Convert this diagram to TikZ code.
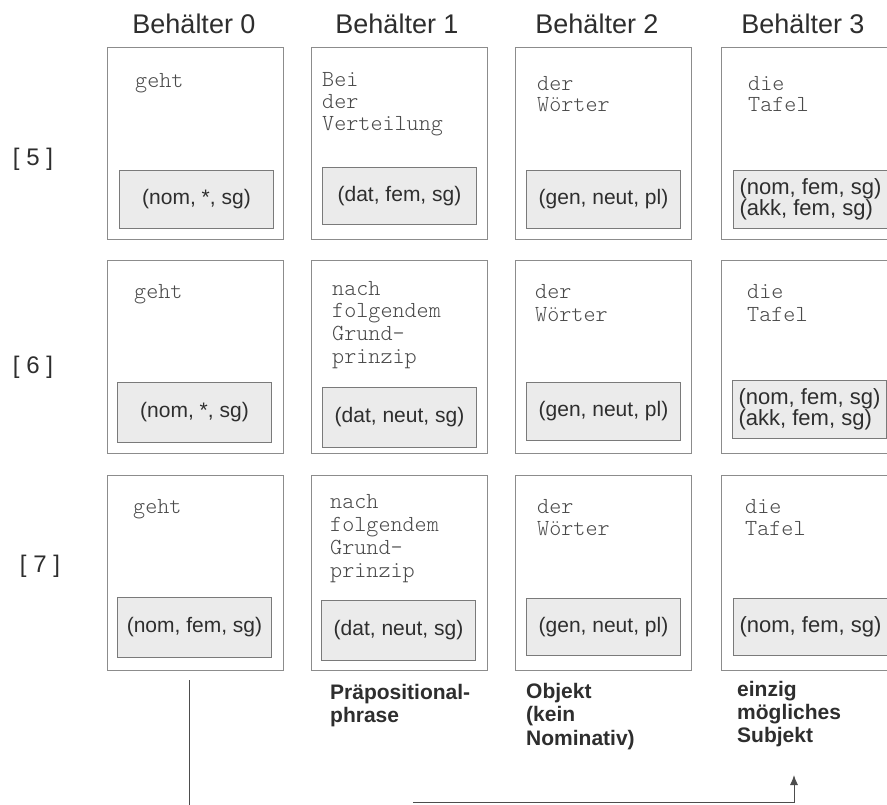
\documentclass[tikz,border=0pt]{standalone}
\usepackage{fontspec}
\setmainfont{Liberation Sans}
\newfontfamily\lmono{lmmonolt10-regular.otf}
\usetikzlibrary{arrows.meta}
\definecolor{boxline}{HTML}{8C8C8C}
\definecolor{innerline}{HTML}{7A7A7A}
\definecolor{innerfill}{HTML}{EBEBEB}
\definecolor{wordcol}{HTML}{4A4A4A}
\definecolor{textcol}{HTML}{2E2E2E}
\tikzset{
  outerbox/.style={draw=boxline, line width=1.1pt, fill=white, inner sep=0pt, anchor=north west, minimum width=176pt},
  innerbox/.style={draw=innerline, line width=1pt, fill=innerfill, inner sep=0pt, anchor=north west, minimum width=154pt, text=textcol, font=\fontsize{21}{21}\selectfont, align=left},
  word/.style={inner sep=0pt, anchor=base west, text=wordcol, font=\lmono\fontsize{23}{22}\selectfont},
  heading/.style={inner sep=0pt, anchor=base, text=textcol, font=\fontsize{27}{30}\selectfont},
  rowlabel/.style={inner sep=0pt, anchor=base, text=textcol, font=\fontsize{24}{26}\selectfont},
  note/.style={inner sep=0pt, anchor=base west, text=textcol, font=\bfseries\fontsize{21}{23}\selectfont},
  connector/.style={draw=textcol!85, line width=1pt},
}
\newcommand\textlines[6]{%
  \foreach \t [count=\i from 0] in {#6} {\node[#1] (#2-\i) at ({#3},{#4+\i*#5}) {\t};}}
\begin{document}
\begin{tikzpicture}[x=1pt,y=-1pt]
\useasboundingbox[fill=white] (0,0) rectangle (887,804);
% headings
\node[heading] (h0) at (194,33) {Behälter 0};
\node[heading] (h1) at (397,33) {Behälter 1};
\node[heading] (h2) at (597,33) {Behälter 2};
\node[heading] (h3) at (803,33) {Behälter 3};
% row labels
\node[rowlabel] (l5) at (33,165) {[ 5 ]};
\node[rowlabel] (l6) at (33,373) {[ 6 ]};
\node[rowlabel] (l7) at (40,572) {[ 7 ]};
% outer boxes
\node[outerbox, minimum height=192pt] (r1c0) at (107,47) {};
\node[outerbox, minimum height=192pt] (r1c1) at (311,47) {};
\node[outerbox, minimum height=192pt] (r1c2) at (515,47) {};
\node[outerbox, minimum height=192pt] (r1c3) at (721,47) {};
\node[outerbox, minimum height=193pt] (r2c0) at (107,260) {};
\node[outerbox, minimum height=193pt] (r2c1) at (311,260) {};
\node[outerbox, minimum height=193pt] (r2c2) at (515,260) {};
\node[outerbox, minimum height=193pt] (r2c3) at (721,260) {};
\node[outerbox, minimum height=195pt] (r3c0) at (107,475) {};
\node[outerbox, minimum height=195pt] (r3c1) at (311,475) {};
\node[outerbox, minimum height=195pt] (r3c2) at (515,475) {};
\node[outerbox, minimum height=195pt] (r3c3) at (721,475) {};
% words
\textlines{word}{w10}{135}{87}{22}{geht}
\textlines{word}{w11}{322}{86}{22}{Bei,der,Verteilung}
\textlines{word}{w12}{537}{90}{21}{der,Wörter}
\textlines{word}{w13}{748}{90}{21}{die,Tafel}
\textlines{word}{w20}{134}{298}{22}{geht}
\textlines{word}{w21}{332}{295}{22.7}{nach,folgendem,Grund-,prinzip}
\textlines{word}{w22}{535}{298}{23}{der,Wörter}
\textlines{word}{w23}{747}{298}{23}{die,Tafel}
\textlines{word}{w30}{133}{513}{22}{geht}
\textlines{word}{w31}{330}{508}{23.3}{nach,folgendem,Grund-,prinzip}
\textlines{word}{w32}{537}{513}{22}{der,Wörter}
\textlines{word}{w33}{745}{513}{22}{die,Tafel}
% inner boxes
\node[innerbox, minimum height=58pt] (i10) at (119,170) {(nom, *, sg)};
\node[innerbox, minimum height=57pt] (i11) at (322,167) {(dat, fem, sg)};
\node[innerbox, minimum height=58pt] (i12) at (526,170) {(gen, neut, pl)};
\node[innerbox, minimum height=58pt, font=\fontsize{22}{21}\selectfont] (i13) at (733,170) {(nom, fem, sg)\\(akk, fem, sg)};
\node[innerbox, minimum height=60pt] (i20) at (117,382) {(nom, *, sg)};
\node[innerbox, minimum height=60pt] (i21) at (322,387) {(dat, neut, sg)};
\node[innerbox, minimum height=58pt] (i22) at (526,382) {(gen, neut, pl)};
\node[innerbox, minimum height=58pt, font=\fontsize{22}{21}\selectfont] (i23) at (732,380) {(nom, fem, sg)\\(akk, fem, sg)};
\node[innerbox, minimum height=60pt] (i30) at (117,597) {(nom, fem, sg)};
\node[innerbox, minimum height=60pt] (i31) at (321,600) {(dat, neut, sg)};
\node[innerbox, minimum height=57pt] (i32) at (526,598) {(gen, neut, pl)};
\node[innerbox, minimum height=57pt, font=\fontsize{22}{21}\selectfont] (i33) at (733,598) {(nom, fem, sg)};
% notes
\node[note] (n1a) at (330,699) {Präpositional-};
\node[note] (n1b) at (330,722) {phrase};
\node[note] (n2a) at (526,698) {Objekt};
\node[note] (n2b) at (526,721.5) {(kein};
\node[note] (n2c) at (526,745) {Nominativ)};
\node[note] (n3a) at (737,696) {einzig};
\node[note] (n3b) at (737,719) {mögliches};
\node[note] (n3c) at (737,742) {Subjekt};
% connectors
\coordinate (vtop) at (189,680);
\coordinate (vbot) at (189,810);
\coordinate (hstart) at (413,802);
\coordinate (atip) at (794,775);
\draw[connector] (vtop) -- (vbot);
\draw[connector, -{Latex[length=10pt,width=8pt]}] (hstart) -| (atip);
\end{tikzpicture}
\end{document}
